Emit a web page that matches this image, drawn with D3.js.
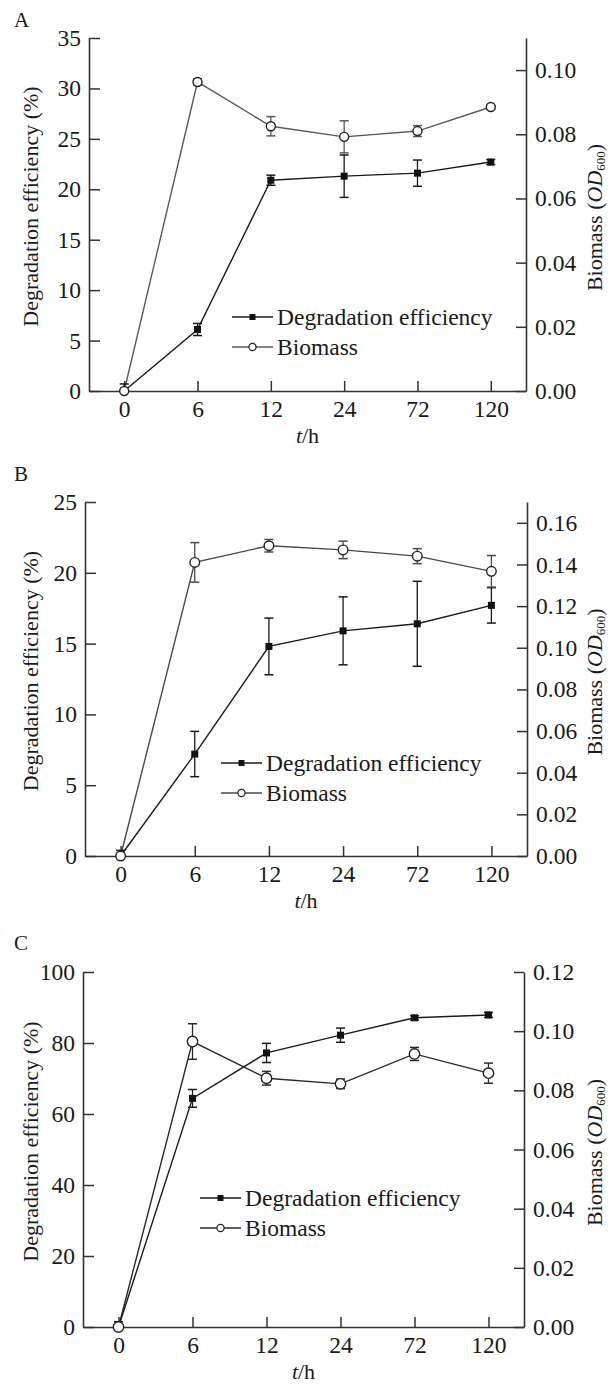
<!DOCTYPE html>
<html>
<head>
<meta charset="utf-8">
<script src="https://cdn.jsdelivr.net/npm/d3@7"></script>
<style>
  body { margin: 0; background: #fff; }
  svg text { font-family: "Liberation Serif", "Times New Roman", serif; fill: #1a1a1a; }
</style>
</head>
<body>
<svg id="chart" width="611" height="1384"></svg>
<script>
// time points (categorical x axis)
var times = ["0", "6", "12", "24", "72", "120"];

// panel A
var degA = [0, 6.1, 20.9, 21.3, 21.6, 22.7];
var degErrA = [0.7, 0.6, 0.5, 2.1, 1.3, 0.25];
var bioA = [0, 0.0963, 0.0825, 0.0792, 0.081, 0.0885];
var bioErrA = [0, 0.001, 0.003, 0.005, 0.0017, 0.0006];

// panel B
var degB = [0, 7.2, 14.8, 15.9, 16.4, 17.7];
var degErrB = [0.4, 1.6, 2.0, 2.4, 3.0, 1.25];
var bioB = [0, 0.141, 0.149, 0.147, 0.144, 0.1367];
var bioErrB = [0, 0.0095, 0.003, 0.0042, 0.0036, 0.0076];

// panel C
var degC = [0, 64.4, 77.2, 82.2, 87.1, 87.9];
var degErrC = [1.5, 2.5, 2.7, 2.0, 0.6, 0.7];
var bioC = [0, 0.0965, 0.0841, 0.0822, 0.0923, 0.0858];
var bioErrC = [0, 0.006, 0.0023, 0.0016, 0.0022, 0.0034];

// axis ranges / ticks
var leftTicksA = [0, 5, 10, 15, 20, 25, 30, 35];
var rightTicksA = [0, 0.02, 0.04, 0.06, 0.08, 0.10];
var leftTicksB = [0, 5, 10, 15, 20, 25];
var rightTicksB = [0, 0.02, 0.04, 0.06, 0.08, 0.10, 0.12, 0.14, 0.16];
var leftTicksC = [0, 20, 40, 60, 80, 100];
var rightTicksC = [0, 0.02, 0.04, 0.06, 0.08, 0.10, 0.12];

var seriesNames = ["Degradation efficiency", "Biomass"];

var panels = [
    { tag: "A", deg: degA, degErr: degErrA, bio: bioA, bioErr: bioErrA,
      leftMax: 35, rightMax: 0.11, leftTicks: leftTicksA, rightTicks: rightTicksA,
      left: 89, right: 526, top: 38, bottom: 391, tagY: 27,
      legX: 232, legY: 317, bioColor: "#5a5a5a", r: 4.5 },
    { tag: "B", deg: degB, degErr: degErrB, bio: bioB, bioErr: bioErrB,
      leftMax: 25, rightMax: 0.17, leftTicks: leftTicksB, rightTicks: rightTicksB,
      left: 85, right: 527, top: 502, bottom: 856, tagY: 481,
      legX: 221, legY: 763, bioColor: "#4a4a4a", r: 4.8 },
    { tag: "C", deg: degC, degErr: degErrC, bio: bioC, bioErr: bioErrC,
      leftMax: 100, rightMax: 0.12, leftTicks: leftTicksC, rightTicks: rightTicksC,
      left: 83, right: 524, top: 972, bottom: 1327, tagY: 950,
      legX: 200, legY: 1198, bioColor: "#2a2a2a", r: 5.2 }
];

var svg = d3.select("#chart");
var axisColor = "#333";
var fs = 23.5;

function errorBars(g, x, y, vals, errs, color) {
    var cap = 4.5;
    var eb = g.append("g");
    vals.forEach(function(v, i) {
        if (!errs[i]) return;
        var cx = x(times[i]);
        var y1 = y(v + errs[i]), y2 = y(Math.max(0, v - errs[i]));
        eb.append("line").attr("x1", cx).attr("x2", cx).attr("y1", y1).attr("y2", y2)
            .attr("stroke", color).attr("stroke-width", 1.3);
        eb.append("line").attr("x1", cx - cap).attr("x2", cx + cap).attr("y1", y1).attr("y2", y1)
            .attr("stroke", color).attr("stroke-width", 1.5);
        if (v - errs[i] > 0)
            eb.append("line").attr("x1", cx - cap).attr("x2", cx + cap).attr("y1", y2).attr("y2", y2)
                .attr("stroke", color).attr("stroke-width", 1.5);
    });
}

function drawPanel(p) {
    var g = svg.append("g");

    var x = d3.scalePoint().domain(times).range([p.left, p.right]).padding(0.48);
    var yL = d3.scaleLinear().domain([0, p.leftMax]).range([p.bottom, p.top]);
    var yR = d3.scaleLinear().domain([0, p.rightMax]).range([p.bottom, p.top]);

    // panel letter
    g.append("text").attr("x", 14).attr("y", p.tagY)
        .style("font-size", "21px").text(p.tag);

    // axes (ticks point inward)
    var ax = d3.axisBottom(x).tickSizeInner(-10).tickSizeOuter(0).tickPadding(9);
    var gx = g.append("g").attr("transform", "translate(0," + p.bottom + ")").call(ax);

    var ayL = d3.axisLeft(yL).tickValues(p.leftTicks).tickSizeInner(-11).tickSizeOuter(0)
        .tickPadding(8).tickFormat(d3.format("d"));
    var gyL = g.append("g").attr("transform", "translate(" + p.left + ",0)").call(ayL);

    var ayR = d3.axisRight(yR).tickValues(p.rightTicks).tickSizeInner(-10).tickSizeOuter(0)
        .tickPadding(9).tickFormat(d3.format(".2f"));
    var gyR = g.append("g").attr("transform", "translate(" + p.right + ",0)").call(ayR);

    [gx, gyL, gyR].forEach(function(a) {
        a.select(".domain").attr("stroke", axisColor).attr("stroke-width", 1.6);
        a.selectAll(".tick line").attr("stroke", axisColor).attr("stroke-width", 1.5);
        a.selectAll(".tick text").style("font-size", fs + "px")
            .style("font-family", "'Liberation Serif', serif").attr("fill", "#1a1a1a");
    });
    gx.selectAll(".tick text").attr("dy", "0.71em");

    // axis titles
    var midY = (p.top + p.bottom) / 2;
    g.append("text").attr("transform", "translate(38," + (midY - 8) + ") rotate(-90)")
        .attr("text-anchor", "middle").style("font-size", "22px")
        .text("Degradation efficiency (%)");

    var rt = g.append("text").attr("transform", "translate(602," + (midY + 3) + ") rotate(-90)")
        .attr("text-anchor", "middle").style("font-size", "22px");
    rt.append("tspan").text("Biomass (");
    rt.append("tspan").style("font-style", "italic").text("OD");
    rt.append("tspan").attr("dy", 3).style("font-size", "13px").text("600");
    rt.append("tspan").attr("dy", -3).text(")");

    var xt = g.append("text").attr("x", (p.left + p.right) / 2).attr("y", p.bottom + 52)
        .attr("text-anchor", "middle").style("font-size", "22px");
    xt.append("tspan").style("font-style", "italic").text("t");
    xt.append("tspan").text("/h");

    // lines
    var lineDeg = d3.line().x(function(d, i) { return x(times[i]); }).y(function(d) { return yL(d); });
    var lineBio = d3.line().x(function(d, i) { return x(times[i]); }).y(function(d) { return yR(d); });

    g.append("path").datum(p.bio).attr("d", lineBio)
        .attr("fill", "none").attr("stroke", p.bioColor).attr("stroke-width", 1.4);
    g.append("path").datum(p.deg).attr("d", lineDeg)
        .attr("fill", "none").attr("stroke", "#1a1a1a").attr("stroke-width", 1.4);

    errorBars(g, x, yL, p.deg, p.degErr, "#1a1a1a");
    errorBars(g, x, yR, p.bio, p.bioErr, p.bioColor);

    // markers
    var sq = 7;
    g.selectAll(".sq").data(p.deg).enter().append("rect")
        .attr("x", function(d, i) { return x(times[i]) - sq / 2; })
        .attr("y", function(d) { return yL(d) - sq / 2; })
        .attr("width", sq).attr("height", sq).attr("fill", "#111");
    g.selectAll(".ci").data(p.bio).enter().append("circle")
        .attr("cx", function(d, i) { return x(times[i]); })
        .attr("cy", function(d) { return yR(d); })
        .attr("r", p.r).attr("fill", "#fff").attr("stroke", "#222").attr("stroke-width", 1.4);

    // legend
    var leg = g.append("g").attr("transform", "translate(" + p.legX + "," + p.legY + ")");
    seriesNames.forEach(function(name, i) {
        var ly = i * 30;
        leg.append("line").attr("x1", 0).attr("x2", 41).attr("y1", ly).attr("y2", ly)
            .attr("stroke", i === 0 ? "#1a1a1a" : p.bioColor).attr("stroke-width", 1.4);
        if (i === 0) {
            leg.append("rect").attr("x", 17.5).attr("y", ly - 3).attr("width", 6).attr("height", 6)
                .attr("fill", "#111");
        } else {
            leg.append("circle").attr("cx", 20.5).attr("cy", ly).attr("r", 3.6)
                .attr("fill", "#fff").attr("stroke", "#222").attr("stroke-width", 1.2);
        }
        leg.append("text").attr("x", 45).attr("y", ly).attr("dy", "0.35em")
            .style("font-size", fs + "px").text(name);
    });
}

panels.forEach(drawPanel);
</script>
</body>
</html>
